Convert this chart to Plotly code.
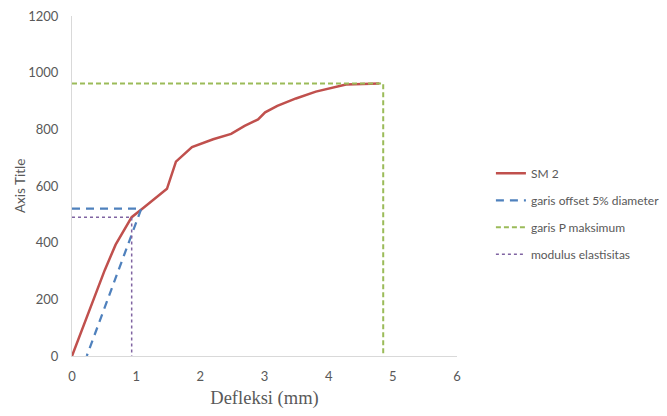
import plotly.graph_objects as go

# SM 2 load-deflection curve
sm2_x = [0, 0.51, 0.68, 0.93, 1.11, 1.29, 1.48, 1.62, 1.87, 2.2, 2.48, 2.69, 2.90, 3.01, 3.20, 3.49, 3.80, 4.27, 4.79]
sm2_y = [0, 303, 393, 490, 522, 555, 590, 686, 737, 765, 784, 812, 835, 860, 883, 909, 933, 958, 962]

# offset line (5% diameter)
off_x = [0, 1.08, 0.23]
off_y = [520, 520, 0]

# P maximum line
pmax_x = [0, 4.85, 4.85]
pmax_y = [962, 962, 0]

# modulus elastisitas line
mod_x = [0, 0.93, 0.93]
mod_y = [490, 490, 0]

x_ticks = [0, 1, 2, 3, 4, 5, 6]
y_ticks = [0, 200, 400, 600, 800, 1000, 1200]

fig = go.Figure()
fig.add_trace(go.Scatter(x=sm2_x, y=sm2_y, mode="lines", name="SM 2", legendgroup="a",
                         line=dict(color="#C0504D", width=2.5)))
fig.add_trace(go.Scatter(x=off_x, y=off_y, mode="lines", name="garis offset 5% diameter", legendgroup="b",
                         line=dict(color="#4F81BD", width=2.25, dash="8px,6px")))
fig.add_trace(go.Scatter(x=pmax_x, y=pmax_y, mode="lines", name="garis P maksimum", legendgroup="c",
                         line=dict(color="#9BBB59", width=2, dash="5px,3px")))
fig.add_trace(go.Scatter(x=mod_x, y=mod_y, mode="lines", name="modulus elastisitas", legendgroup="d",
                         line=dict(color="#8064A2", width=1.5, dash="dot")))

fig.update_layout(
    width=667, height=416,
    margin=dict(l=72, r=210, t=16, b=60, autoexpand=False),
    paper_bgcolor="white", plot_bgcolor="white",
    font=dict(family="Lato, Liberation Sans, sans-serif", size=13, color="#595959"),
    showlegend=True,
    legend=dict(xref="container", yref="container", x=0.736, y=0.486,
                xanchor="left", yanchor="middle",
                tracegroupgap=8, font=dict(size=12, color="#595959"),
                bgcolor="rgba(0,0,0,0)"),
    xaxis=dict(range=[0, 6], tickvals=x_ticks, showgrid=False, zeroline=False,
               showline=True, linecolor="#D9D9D9", linewidth=1, ticks="",
               automargin=False, ticklabelstandoff=8,
               title=dict(text="Defleksi (mm)", font=dict(family="Liberation Serif, serif", size=18.5, color="#595959"),
                          standoff=8)),
    yaxis=dict(range=[0, 1200], tickvals=y_ticks, showgrid=False, zeroline=False,
               showline=True, linecolor="#D9D9D9", linewidth=1, ticks="",
               automargin=False, ticklabelstandoff=10),
    annotations=[dict(text="Axis Title", textangle=-90, xref="paper", yref="paper",
                      x=-0.135, y=0.5, xanchor="center", yanchor="middle", showarrow=False,
                      font=dict(size=13.5, color="#595959"))],
)

fig.write_html("out.html", config={"displayModeBar": False},
               post_script="document.body.style.margin='0';document.body.style.overflow='hidden';")
